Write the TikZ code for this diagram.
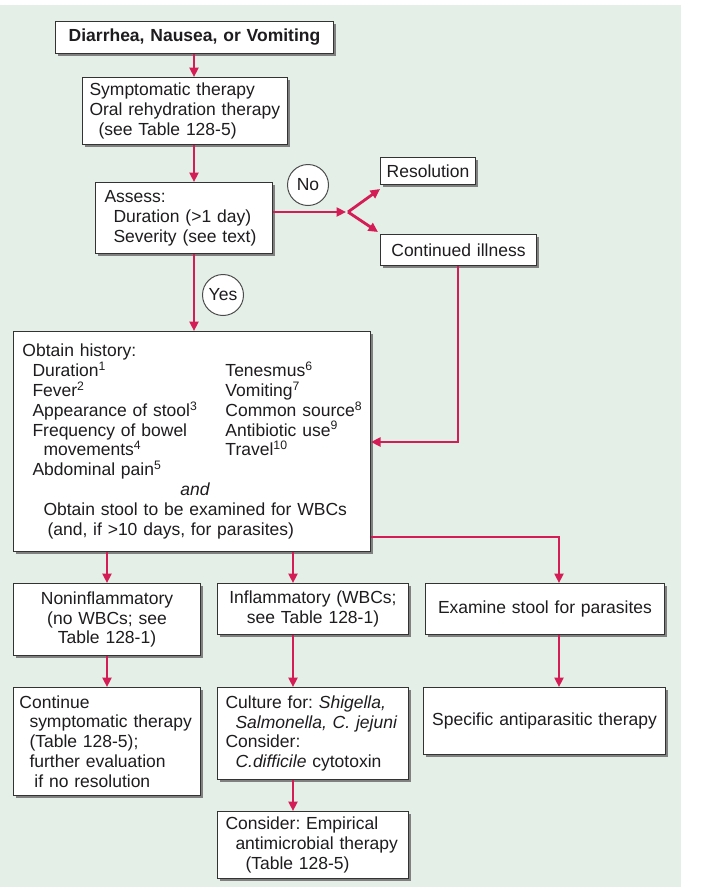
\documentclass[tikz,border=0pt]{standalone}
\usepackage{fontspec}
\setmainfont{Liberation Sans}
\usetikzlibrary{arrows.meta,shadows,calc}
\definecolor{bgc}{RGB}{228,239,231}
\definecolor{crim}{RGB}{212,28,86}
\definecolor{ink}{RGB}{30,28,30}
\frenchspacing
\newcommand\bodyfont{\fontsize{17.5}{19.8}\selectfont}
\newcommand\Lx[1]{\mbox{#1}}
\tikzset{
  bx/.style={draw=black!80, line width=1pt, fill=white, text=ink,
    drop shadow={shadow xshift=2.2pt, shadow yshift=-2.2pt, fill=black!50, opacity=1},
    inner xsep=0pt, inner ysep=0pt, anchor=north west, align=left, font=\bodyfont},
  bxc/.style={bx, align=center},
  circ/.style={circle, draw=black!70, line width=1pt, fill=white, text=ink,
    minimum size=41pt, inner sep=0pt, font=\bodyfont},
  arr/.style={draw=crim, line width=2.8pt, -{Triangle[length=9.5pt,width=9pt]}},
}
\begin{document}
\begin{tikzpicture}[x=1pt,y=-1pt]
\useasboundingbox (0,0) rectangle (702,887);
\fill[white] (0,0) rectangle (702,887);
\fill[bgc] (0,5) rectangle (681,887);

% boxes
\node[bxc, font=\bodyfont\bfseries, minimum width=278pt, minimum height=32pt, text width=272pt] (b1) at (55,21) {Diarrhea, Nausea, or Vomiting};
\node[bx, minimum width=205pt, minimum height=67pt, text width=191pt] (b2) at (82,77)
  {\Lx{Symptomatic therapy}\\\Lx{Oral rehydration therapy}\\\Lx{\hspace*{9pt}(see Table 128-5)}};
\node[bx, minimum width=177pt, minimum height=71pt, text width=159pt] (b3) at (95,182)
  {\Lx{Assess:}\\\Lx{\hspace*{9pt}Duration (>1 day)}\\\Lx{\hspace*{9pt}Severity (see text)}};
\node[bxc, minimum width=95pt, minimum height=27pt, text width=90pt] (res) at (380,157) {Resolution};
\node[bxc, minimum width=156pt, minimum height=31pt, text width=150pt] (cont) at (380,234) {Continued illness};

\node[circ] (no) at (308,185) {No};
\node[circ] (yes) at (223,295) {Yes};

\node[bx, minimum width=357pt, minimum height=220pt, text width=339pt] (hist) at (13,331)
  {\Lx{Obtain history:}\\
   \Lx{\hspace*{10pt}\makebox[193pt][l]{Duration\textsuperscript{1}}Tenesmus\textsuperscript{6}}\\
   \Lx{\hspace*{10pt}\makebox[193pt][l]{Fever\textsuperscript{2}}Vomiting\textsuperscript{7}}\\
   \Lx{\hspace*{10pt}\makebox[193pt][l]{Appearance of stool\textsuperscript{3}}Common source\textsuperscript{8}}\\
   \Lx{\hspace*{10pt}\makebox[193pt][l]{Frequency of bowel}Antibiotic use\textsuperscript{9}}\\
   \Lx{\hspace*{21pt}\makebox[182pt][l]{movements\textsuperscript{4}}Travel\textsuperscript{10}}\\
   \Lx{\hspace*{10pt}Abdominal pain\textsuperscript{5}}\\
   \Lx{\hspace*{158pt}\textit{and}}\\
   \Lx{\hspace*{21pt}Obtain stool to be examined for WBCs}\\
   \Lx{\hspace*{25pt}(and, if >10 days, for parasites)}};

\node[bxc, minimum width=187pt, minimum height=72pt, text width=180pt] (nonin) at (13,583)
  {Noninflammatory\\(no WBCs; see\\Table 128-1)};
\node[bxc, minimum width=191pt, minimum height=51pt, text width=185pt] (infl) at (217,583)
  {Inflammatory (WBCs;\\ see Table 128-1)};
\node[bxc, minimum width=239pt, minimum height=51pt, text width=232pt] (exam) at (425,583)
  {Examine stool for parasites};

\node[bx, minimum width=187pt, minimum height=108pt, text width=175pt] (contin) at (13,687)
  {\Lx{Continue}\\\Lx{\hspace*{10pt}symptomatic therapy}\\\Lx{\hspace*{10pt}(Table 128-5);}\\
   \Lx{\hspace*{10pt}further evaluation}\\\Lx{\hspace*{15pt}if no resolution}};
\node[bx, minimum width=191pt, minimum height=92pt, text width=175pt] (cult) at (217,687)
  {\Lx{Culture for: \textit{Shigella,}}\\\Lx{\hspace*{10pt}\textit{Salmonella, C. jejuni}}\\
   \Lx{Consider:}\\\Lx{\hspace*{10pt}\textit{C.difficile} cytotoxin}};
\node[bxc, minimum width=242pt, minimum height=67pt, text width=236pt] (spec) at (423,687)
  {Specific antiparasitic therapy};
\node[bx, minimum width=191pt, minimum height=67pt, text width=175pt] (emp) at (217,811)
  {\Lx{Consider: Empirical}\\\Lx{\hspace*{10pt}antimicrobial therapy}\\\Lx{\hspace*{20pt}(Table 128-5)}};

% helper coordinates
\coordinate (cA) at (194,0);
\coordinate (cC) at (293,0);
\coordinate (cD) at (559,537);
\coordinate (k1) at (458,442);
\coordinate (fk) at (348,212);

% connectors
\draw[arr] (b1.south -| cA) -- (b2.north -| cA);
\draw[arr] (b2.south -| cA) -- (b3.north -| cA);
\draw[arr] (b3.south -| cA) -- (hist.north -| cA);
\draw[arr] (b3.east |- fk) -- ([xshift=-2pt]fk);
\draw[arr] (fk) -- ([shift={(0,4)}]res.south west);
\draw[arr] (fk) -- ([shift={(-2,-2)}]cont.north west);
\draw[arr] (cont.south -| k1) |- (hist.east |- k1);
\draw[arr] (hist.south -| nonin.north) -- (nonin.north);
\draw[arr] (hist.south -| cC) -- (infl.north -| cC);
\draw[arr] (hist.east |- cD) -| (exam.north -| cD);
\draw[arr] (nonin.south) -- (contin.north);
\draw[arr] (infl.south -| cC) -- (cult.north -| cC);
\draw[arr] (cult.south -| cC) -- (emp.north -| cC);
\draw[arr] (exam.south -| cD) -- (spec.north -| cD);
\end{tikzpicture}
\end{document}
